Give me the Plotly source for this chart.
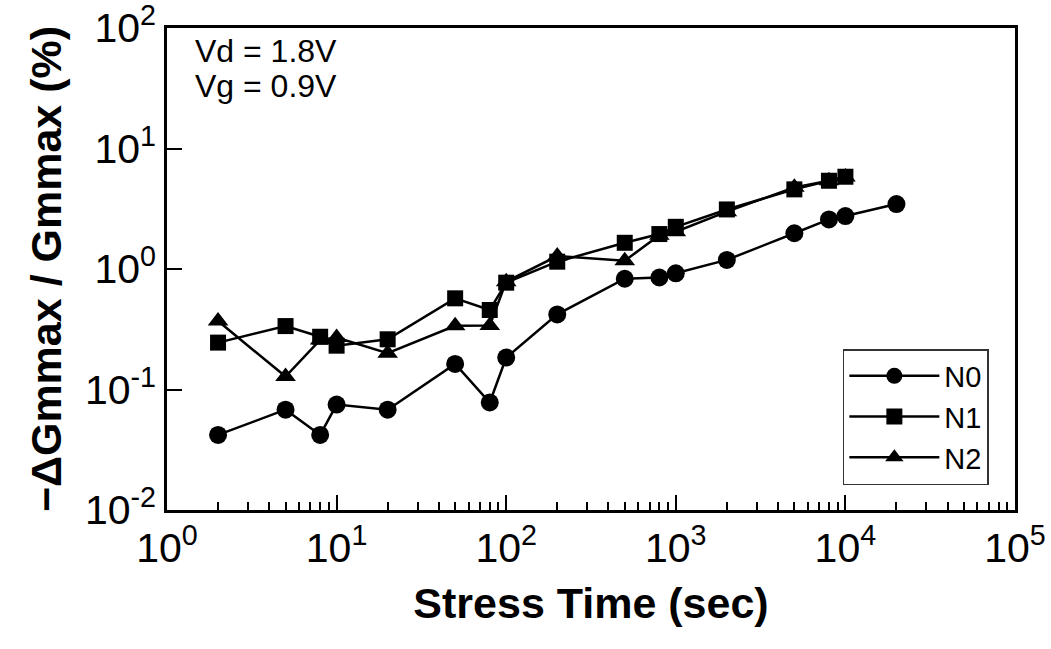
import plotly.graph_objects as go
import numpy as np

# Data
t_n0 = [2, 5, 8, 10, 20, 50, 80, 100, 200, 500, 800, 1000, 2000, 5000, 8000, 10000, 20000]
y_n0 = [0.042, 0.068, 0.042, 0.075, 0.068, 0.163, 0.078, 0.184, 0.42, 0.83, 0.85, 0.92, 1.19, 1.98, 2.58, 2.75, 3.46]

t_n1 = [2, 5, 8, 10, 20, 50, 80, 100, 200, 500, 800, 1000, 2000, 5000, 8000, 10000]
y_n1 = [0.245, 0.336, 0.274, 0.231, 0.261, 0.571, 0.457, 0.77, 1.15, 1.65, 1.95, 2.24, 3.12, 4.58, 5.4, 5.83]

t_n2 = [2, 5, 8, 10, 20, 50, 80, 100, 200, 500, 800, 1000, 2000, 5000, 8000, 10000]
y_n2 = [0.37, 0.128, 0.258, 0.27, 0.2, 0.338, 0.34, 0.785, 1.28, 1.17, 1.91, 2.04, 2.99, 4.76, 5.4, 5.8]

x_tickvals = [1, 10, 100, 1000, 10000, 100000]
x_ticktext = ["10<sup>0</sup>", "10<sup>1</sup>", "10<sup>2</sup>", "10<sup>3</sup>", "10<sup>4</sup>", "10<sup>5</sup>"]
y_tickvals = [0.01, 0.1, 1, 10, 100]
y_ticktext = ["10<sup>-2</sup>", "10<sup>-1</sup>", "10<sup>0</sup>", "10<sup>1</sup>", "10<sup>2</sup>"]

conditions = ["Vd = 1.8V", "Vg = 0.9V"]

series = [
    ("N0", t_n0, y_n0, "circle", 18),
    ("N1", t_n1, y_n1, "square", 16),
    ("N2", t_n2, y_n2, "triangle-up", 18),
]

fig = go.Figure()
for name, xs, ys, sym, sz in series:
    fig.add_trace(go.Scatter(
        x=xs, y=ys, name=name, mode="lines+markers",
        line=dict(color="black", width=2.5),
        marker=dict(symbol=sym, size=sz, color="black", line=dict(width=0)),
    ))

minor_x = [m * 10 ** d for d in range(0, 5) for m in range(2, 10)]

font_family = "Liberation Sans, Arial, sans-serif"

fig.update_xaxes(
    type="log", range=[0, 5], automargin=False, ticklabeloverflow="allow",
    tickvals=x_tickvals, ticktext=x_ticktext,
    ticks="inside", ticklen=15, tickwidth=2, tickcolor="black",
    minor=dict(tickvals=minor_x, ticks="inside", ticklen=8, tickwidth=1.5, tickcolor="black"),
    showline=True, linecolor="black", linewidth=2.5, mirror=True,
    showgrid=False, zeroline=False,
    tickfont=dict(family=font_family, size=41, color="black"),
    title=dict(text="<b>Stress Time (sec)</b>", font=dict(family=font_family, size=43, color="black"), standoff=18),
)
fig.update_yaxes(
    type="log", range=[-2, 2], automargin=False, ticklabeloverflow="allow",
    tickvals=y_tickvals, ticktext=y_ticktext,
    ticks="inside", ticklen=15, tickwidth=2, tickcolor="black",
    showline=True, linecolor="black", linewidth=2.5, mirror=True,
    showgrid=False, zeroline=False,
    tickfont=dict(family=font_family, size=41, color="black"),
    title=dict(text="<b>\u2212\u0394Gmmax / Gmmax (%)</b>", font=dict(family=font_family, size=43, color="black"), standoff=10),
)

for i, txt in enumerate(conditions):
    fig.add_annotation(
        xref="paper", yref="paper", x=0.031, y=0.952 - i * 0.072, xanchor="left", yanchor="middle",
        text=txt, showarrow=False, align="left",
        font=dict(family=font_family, size=32, color="black"),
    )

fig.update_layout(
    width=1051, height=649,
    margin=dict(l=167, r=36, t=28, b=139),
    paper_bgcolor="white", plot_bgcolor="white",
    font=dict(family=font_family, color="black"),
    showlegend=True,
    legend=dict(
        x=0.797, y=0.334, xanchor="left", yanchor="top",
        bgcolor="white", bordercolor="#333333", borderwidth=1.5,
        font=dict(family=font_family, size=29, color="black"),
        itemwidth=90,
    ),
)

fig.write_html("out.html")
